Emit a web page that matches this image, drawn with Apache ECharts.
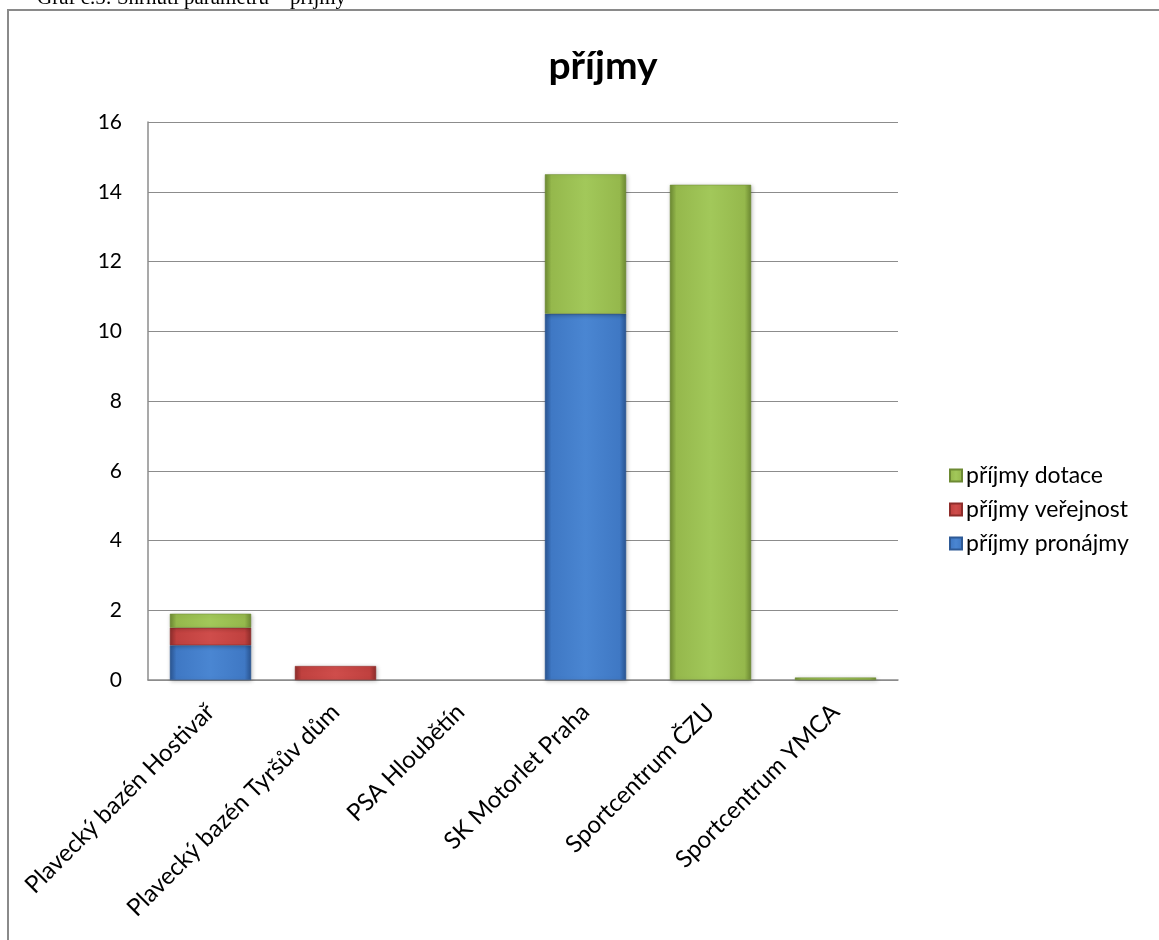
<!DOCTYPE html>
<html><head><meta charset="utf-8">
<script src="https://cdn.jsdelivr.net/npm/echarts@6/dist/echarts.min.js"></script>
<style>html,body{margin:0;padding:0;background:#fff}#c{width:1159px;height:940px}</style>
</head><body><div id="c"></div>
<script>
const categories = ['Plavecký bazén Hostivař','Plavecký bazén Tyršův dům','PSA Hloubětín','SK Motorlet Praha','Sportcentrum ČZU','Sportcentrum YMCA'];
const pronajmy = [1.0, 0, 0, 10.5, 0, 0];
const verejnost = [0.5, 0.4, 0, 0, 0, 0];
const dotace = [0.4, 0, 0, 4.0, 14.2, 0.07];
const seriesNames = ['příjmy pronájmy','příjmy veřejnost','příjmy dotace'];
const yTicks = [0, 2, 4, 6, 8, 10, 12, 14, 16];

const FONT = 'Lato, "Open Sans", sans-serif';
function bevel(mid, dark, light){
  return {type:'linear', x:0, y:0, x2:1, y2:0, colorStops:[
    {offset:0, color:dark},{offset:0.08, color:mid},{offset:0.5, color:light},{offset:0.92, color:mid},{offset:1, color:dark}]};
}
const styles = [
  {color: bevel('#3f78c4','#2a5592','#4a86d2'), border:'#2e5a96'},
  {color: bevel('#c0413f','#8e2d2b','#cf4d4b'), border:'#8e2d2b'},
  {color: bevel('#95b84c','#6d8a33','#a2c85a'), border:'#6d8a33'}
];
const dataArrays = [pronajmy, verejnost, dotace];
const chart = echarts.init(document.getElementById('c'), null, {renderer:'canvas'});
chart.setOption({
  backgroundColor:'#fff',
  animation:false,
  title:{text:'příjmy', left:598, top:42, textAlign:'center',
    textStyle:{fontFamily:FONT, fontSize:39, fontWeight:'bold', color:'#000'}},
  legend:{orient:'vertical', left:944, top:459, itemGap:11, itemWidth:12, itemHeight:12,
    icon:'rect', data:[seriesNames[2], seriesNames[1], seriesNames[0]],
    textStyle:{fontFamily:FONT, fontSize:23, color:'#000', padding:[0,0,0,-1]}},
  grid:{left:148, right:261, top:122, bottom:260},
  xAxis:{type:'category', data:categories,
    axisLine:{lineStyle:{color:'#8c8c8c', width:1.5}},
    axisTick:{show:false},
    axisLabel:{rotate:45, interval:0, margin:28, fontFamily:FONT, fontSize:24, color:'#000'}},
  yAxis:{type:'value', min:yTicks[0], max:yTicks[yTicks.length-1], interval:2,
    axisLine:{show:true, lineStyle:{color:'#8c8c8c', width:1.5}},
    axisTick:{show:false},
    splitLine:{lineStyle:{color:'#8c8c8c', width:1.2}},
    axisLabel:{fontFamily:FONT, fontSize:21, color:'#000', margin:26}},
  graphic:[
    {type:'rect', shape:{x:8, y:10, width:1170, height:950}, style:{fill:'none', stroke:'#8a8a8a', lineWidth:2}, z:-1},
    {type:'text', left:37, top:-12, style:{text:'Graf č.5: Shrnutí parametrů – příjmy', font:'21px "Liberation Serif", serif', fill:'#000'}}
  ],
  series: seriesNames.map((n,i)=>({
    name:n, type:'bar', stack:'total', barWidth:'65%',
    data:dataArrays[i].map(v => v === 0 ? '-' : v),
    itemStyle:{color:styles[i].color, borderColor:styles[i].border, borderWidth:0.5,
      shadowColor:'rgba(0,0,0,0.25)', shadowBlur:4, shadowOffsetX:1, shadowOffsetY:1}
  }))
});
</script></body></html>
